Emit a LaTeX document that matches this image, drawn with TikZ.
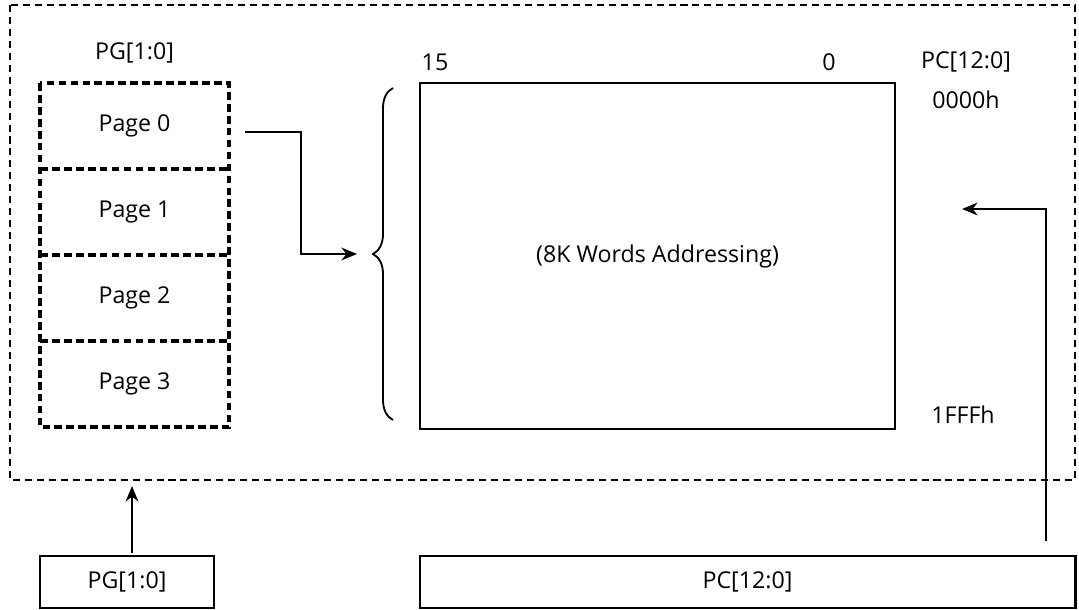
\documentclass[tikz,border=0pt]{standalone}
\usepackage{fontspec}
\setmainfont{Open Sans}
\usetikzlibrary{arrows.meta,positioning,decorations.pathreplacing}

\tikzset{
  pagebox/.style={minimum width=4.725cm, minimum height=2.15cm, inner sep=0pt, outer sep=0pt},
  pageline/.style={line width=2.4pt, dash pattern=on 5.5pt off 3pt},
  plainbox/.style={draw, line width=2pt, inner sep=0pt, outer sep=0pt},
  lbl/.style={inner sep=0pt},
  arr/.style={line width=2pt, -{Stealth[length=11pt,width=9pt,inset=3.5pt]}}
}

\begin{document}
\begin{tikzpicture}[x=0.025cm, y=-0.025cm, font=\fontsize{16.5}{20}\selectfont]
  \useasboundingbox (0,0) rectangle (1079,610);
  % Outer frame
  \draw[line width=1.6pt, dash pattern=on 5pt off 3.5pt] (10,5) rectangle (1075,480);
  % Page registers
  \node[pagebox] (page0) at (134.5,126) {Page 0};
  \node[pagebox, below=0pt of page0] (page1) {Page 1};
  \node[pagebox, below=0pt of page1] (page2) {Page 2};
  \node[pagebox, below=0pt of page2] (page3) {Page 3};
  \draw[pageline] (page0.north west) rectangle (page3.south east);
  \foreach \p in {page0,page1,page2}
    \draw[pageline] (\p.south west) -- (\p.south east);
  \node[lbl, above=14pt of page0] (pgtop) {PG[1:0]};
  % Memory block
  \node[plainbox, minimum width=11.875cm, minimum height=8.65cm] (mem) at (657.5,256) {(8K Words Addressing)};
  \node[lbl] (msb) at (435,62) {15};
  \node[lbl] (lsb) at (829,62) {0};
  \node[lbl] (pctop) at (966,62) {PC[12:0]};
  \node[lbl] (addr0) at (966,100) {0000h};
  \node[lbl] (addr1) at (963,415) {1FFFh};
  \draw[line width=1.3pt, decorate, decoration={brace, amplitude=0.5cm}]
    (393,420) -- (393,88) coordinate[midway] (bracemid);
  % Bottom registers
  \node[plainbox, minimum width=4.35cm, minimum height=1.3cm] (pgreg) at (127,582) {PG[1:0]};
  \node[plainbox, minimum width=16.375cm, minimum height=1.3cm] (pcreg) at (747.5,582) {PC[12:0]};
  % Connectors
  \coordinate (p0out) at (245,132);
  \coordinate (bracetip) at (357,254);
  \coordinate (pgup) at (132,553);
  \coordinate (pgin) at (132,486);
  \coordinate (pcup) at (1046,541);
  \coordinate (pcin) at (962,209);
  \draw[arr] (p0out) -- ++(56,0) |- (bracetip);
  \draw[arr] (pgup) -- (pgin);
  \draw[arr] (pcup) |- (pcin);
\end{tikzpicture}
\end{document}
